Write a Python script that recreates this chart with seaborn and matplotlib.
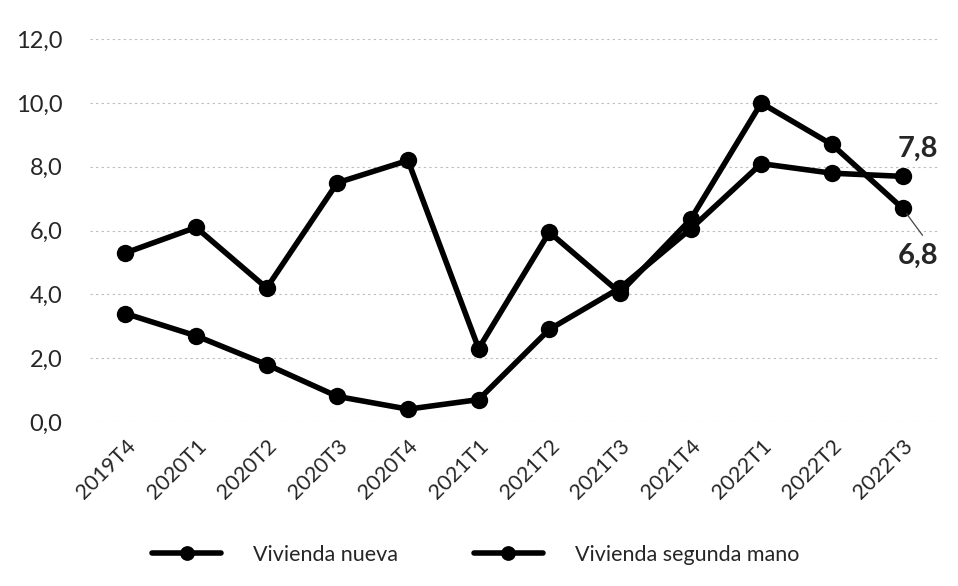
import matplotlib
matplotlib.use("Agg")
import matplotlib.pyplot as plt
import seaborn as sns
import pandas as pd

quarters = ["2019T4", "2020T1", "2020T2", "2020T3", "2020T4", "2021T1",
            "2021T2", "2021T3", "2021T4", "2022T1", "2022T2", "2022T3"]
nueva = [5.3, 6.1, 4.2, 7.5, 8.2, 2.3, 5.95, 4.05, 6.35, 10.0, 8.7, 6.7]
segunda = [3.4, 2.7, 1.8, 0.8, 0.4, 0.7, 2.9, 4.2, 6.05, 8.1, 7.8, 7.7]
series_names = ["Vivienda nueva", "Vivienda segunda mano"]
end_labels = ["6,8", "7,8"]
y_ticks = [0, 2, 4, 6, 8, 10, 12]

df = pd.DataFrame({
    "trimestre": quarters * 2,
    "valor": nueva + segunda,
    "serie": [series_names[0]] * len(quarters) + [series_names[1]] * len(quarters),
})
df["x"] = list(range(len(quarters))) * 2

sns.set_style("white")
plt.rcParams["font.family"] = ["Lato", "DejaVu Sans"]

fig = plt.figure(figsize=(9.58, 5.86), dpi=100)
ax = fig.add_axes([0.094, 0.280, 0.885, 0.653])

sns.lineplot(data=df, x="x", y="valor", hue="serie", palette=["black", "black"],
             marker="o", markersize=12.5, linewidth=4, markeredgewidth=0,
             dashes=False, ax=ax, legend=True, zorder=3)

ax.set_xlim(-0.5, len(quarters) - 0.5)
ax.set_ylim(0, 12)
ax.set_yticks(y_ticks)
ax.set_yticklabels([f"{v:.1f}".replace(".", ",") for v in y_ticks], fontsize=17)
ax.set_xticks(range(len(quarters)))
ax.set_xticklabels(quarters, rotation=45, ha="right", rotation_mode="anchor", fontsize=15.5)
ax.tick_params(axis="y", length=0, pad=20)
ax.tick_params(axis="x", length=0, pad=10)
ax.set_xlabel("")
ax.set_ylabel("")
for s in ax.spines.values():
    s.set_visible(False)
ax.yaxis.grid(True, linestyle=(0, (2, 3)), color="#bbbbbb", linewidth=0.8)
ax.set_axisbelow(True)

# end labels
last = len(quarters) - 1
ax.annotate(end_labels[1], xy=(last, segunda[-1]), xytext=(last + 0.22, segunda[-1] + 0.85),
            fontsize=21, fontweight="bold", ha="center", va="center")
ax.annotate(end_labels[0], xy=(last, nueva[-1]), xytext=(last + 0.22, nueva[-1] - 1.5),
            fontsize=21, fontweight="bold", ha="center", va="center",
            arrowprops=dict(arrowstyle="-", color="#444444", lw=0.9, relpos=(0.75, 1.0),
                            shrinkA=4, shrinkB=5))
for t in ax.texts:
    t.set_clip_on(False)

leg = ax.legend(loc="upper center", bbox_to_anchor=(0.455, -0.27), ncol=2, frameon=False,
                fontsize=15.5, handlelength=3.2, columnspacing=3.5, handletextpad=1.5,
                markerscale=0.85)

fig.savefig("out.png", dpi=100)
